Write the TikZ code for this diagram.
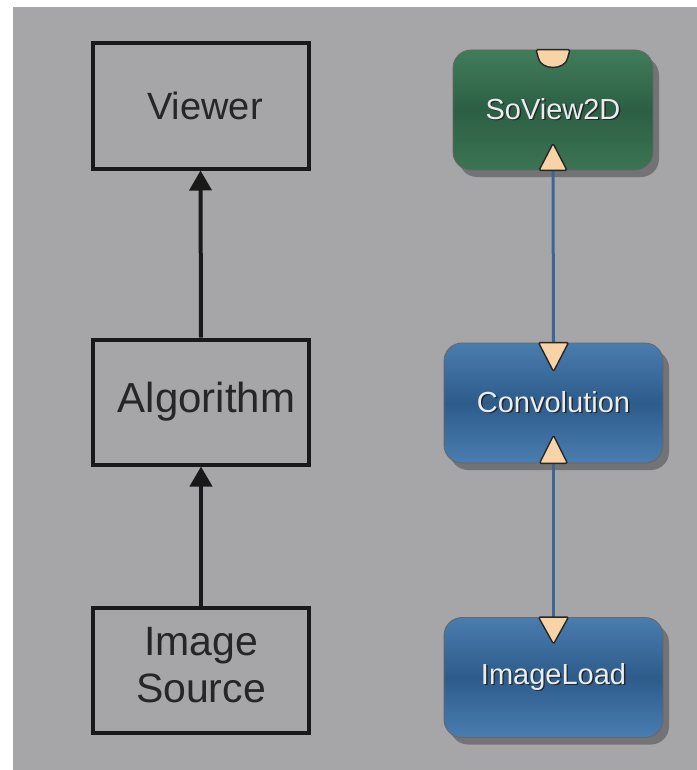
\documentclass[tikz,border=0pt]{standalone}
\usepackage{fontspec}
\setmainfont{Liberation Sans}
\usetikzlibrary{arrows.meta,shadows,calc}
\definecolor{bggray}{HTML}{A6A6A8}
\definecolor{gtop}{HTML}{417C5A}
\definecolor{gmid}{HTML}{2C5F44}
\definecolor{gbot}{HTML}{3B7453}
\definecolor{btop}{HTML}{4A7CAE}
\definecolor{bmid}{HTML}{2D5C8B}
\definecolor{bbot}{HTML}{4A7DB0}
\definecolor{portc}{HTML}{F7D3A6}
\definecolor{wirec}{HTML}{3A6796}
\definecolor{labc}{HTML}{E8EEF0}
\newcommand{\shtext}[1]{{\makebox[0pt][l]{\hspace{1.4bp}\raisebox{-1.4bp}{\color{black!85}#1}}#1}}
\tikzset{
  concept/.style={draw=black!90, line width=4bp, rectangle, inner sep=0pt,
    minimum width=216bp, minimum height=125bp, align=center,
    font=\fontsize{40bp}{46bp}\selectfont, text=black!85},
  flowarrow/.style={line width=4bp, black!90, -{Triangle[length=20bp,width=22bp]}},
  module/.style={rectangle, rounded corners=18bp, draw=black!60, line width=0.8bp,
    inner sep=0pt, minimum height=120bp, text=labc,
    font=\fontsize{29bp}{32bp}\selectfont,
    drop shadow={shadow xshift=6bp, shadow yshift=-7bp, fill=black, opacity=0.3}},
  greenmod/.style={module, top color=gtop, bottom color=gbot, middle color=gmid},
  bluemod/.style={module, top color=btop, bottom color=bbot, middle color=bmid},
  port/.style={fill=portc, draw=black!85, line width=1.4bp, rounded corners=1.5bp},
  wire/.style={wirec, line width=3bp}
}
\begin{document}
\begin{tikzpicture}[x=1bp,y=-1bp]
\useasboundingbox (0,0) rectangle (697,770);
\fill[white] (0,0) rectangle (697,770);
\fill[bggray] (13,7) rectangle (697,770);

% left conceptual chain
\node[concept, font=\fontsize{38bp}{46bp}\selectfont] (view) at (200.5,106) {\hspace{9bp}Viewer};
\node[concept, font=\fontsize{42bp}{46bp}\selectfont] (alg) at (201,402) {\hspace{11bp}Algorithm};
\node[concept, font=\fontsize{41bp}{47bp}\selectfont] (src) at (201,670.5) {\raisebox{11bp}{\shortstack{Image\\[7bp]Source}}};
\draw[flowarrow] (alg.north) -- (view.south);
\draw[flowarrow] (src.north) -- (alg.south);

% right module network
\node[greenmod, minimum width=200bp] (sv) at (553,110) {\raisebox{3bp}{\shtext{SoView2D}}};
\node[bluemod, minimum width=219bp] (cv) at (553.5,403) {\raisebox{2bp}{\shtext{Convolution}}};
\node[bluemod, minimum width=219bp] (il) at (553.5,677.5) {\raisebox{2bp}{\shtext{ImageLoad}}};

\draw[wire] (sv.south) -- (cv.north);
\draw[wire] (cv.south) -- (il.north);

% ports of SoView2D
\draw[port] ($(sv.north)+(-17,0)$) -- ($(sv.north)+(17,0)$) -- ($(sv.north)+(15,7)$)
  .. controls ($(sv.north)+(12,21)$) and ($(sv.north)+(-12,21)$) .. ($(sv.north)+(-15,7)$) -- cycle;
\draw[port] ($(sv.south)+(-14,0)$) -- ($(sv.south)+(0,-27)$) -- ($(sv.south)+(14,0)$) -- cycle;
% ports of Convolution
\draw[port] ($(cv.north)+(-15,0)$) -- ($(cv.north)+(15,0)$) -- ($(cv.north)+(0,29)$) -- cycle;
\draw[port] ($(cv.south)+(-14,0)$) -- ($(cv.south)+(0,-28)$) -- ($(cv.south)+(14,0)$) -- cycle;
% port of ImageLoad
\draw[port] ($(il.north)+(-15,0)$) -- ($(il.north)+(15,0)$) -- ($(il.north)+(0,27)$) -- cycle;
\end{tikzpicture}
\end{document}
